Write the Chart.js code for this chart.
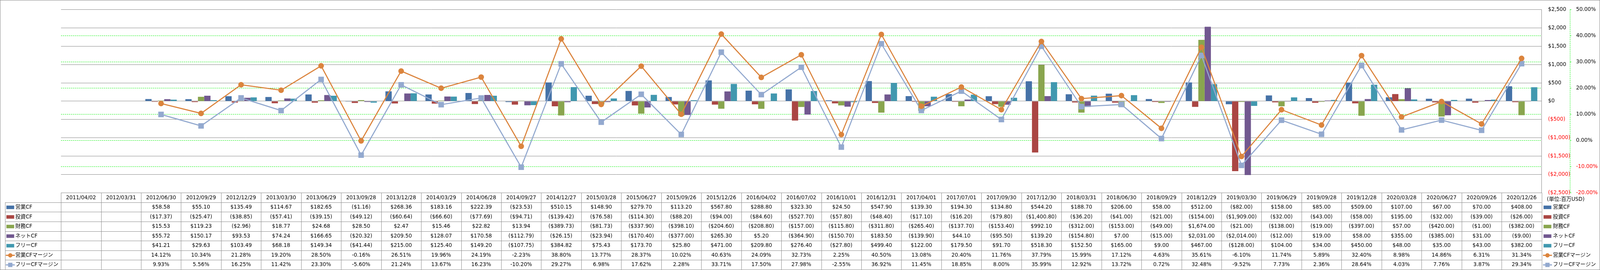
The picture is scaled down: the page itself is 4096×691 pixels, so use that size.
<!DOCTYPE html>
<html>
<head>
<meta charset="utf-8">
<script src="https://cdn.jsdelivr.net/npm/chart.js@4.4.1/dist/chart.umd.min.js"></script>
<style>
html,body{margin:0;padding:0;background:#fff;}
canvas{display:block;}
</style>
</head>
<body>
<canvas id="cf" width="4096" height="691"></canvas>
<script>
// Data (単位: 百万USD)
const categories = ['2011/04/02','2012/03/31','2012/06/30','2012/09/29','2012/12/29','2013/03/30','2013/06/29','2013/09/28','2013/12/28',
  '2014/03/29','2014/06/28','2014/09/27','2014/12/27','2015/03/28','2015/06/27','2015/09/26','2015/12/26',
  '2016/04/02','2016/07/02','2016/10/01','2016/12/31','2017/04/01','2017/07/01','2017/09/30','2017/12/30',
  '2018/03/31','2018/06/30','2018/09/29','2018/12/29','2019/03/30','2019/06/29','2019/09/28','2019/12/28',
  '2020/03/28','2020/06/27','2020/09/26','2020/12/26'];
const opCF = [null,null,58.58,55.10,135.49,114.67,182.65,-1.16,268.36,183.16,222.39,-23.53,510.15,148.90,279.70,113.20,567.80,
  288.80,323.30,24.50,547.90,139.30,194.30,134.80,544.20,188.70,206.00,58.00,512.00,-82.00,158.00,85.00,509.00,107.00,67.00,70.00,408.00];
const invCF = [null,null,-17.37,-25.47,-38.85,-57.41,-39.15,-49.12,-60.64,-66.60,-77.69,-94.71,-139.42,-76.58,-114.30,-88.20,-94.00,
  -84.60,-527.70,-57.80,-48.40,-17.10,-16.20,-79.80,-1400.80,-36.20,-41.00,-21.00,-154.00,-1909.00,-32.00,-43.00,-58.00,195.00,-32.00,-39.00,-26.00];
const finCF = [null,null,15.53,119.23,-2.96,18.77,24.68,28.50,2.47,15.46,22.82,13.94,-389.73,-81.73,-337.90,-398.10,-204.60,
  -208.80,-157.00,-115.80,-311.80,-265.40,-137.70,-153.40,992.10,-312.00,-153.00,-49.00,1674.00,-21.00,-138.00,-19.00,-397.00,57.00,-420.00,-1.00,-382.00];
const netCF = [null,null,55.72,150.17,93.53,74.24,166.65,-20.32,209.50,128.07,170.58,-112.79,-26.15,-23.94,-170.40,-377.00,265.30,
  5.20,-364.90,-150.70,183.50,-139.90,44.10,-95.50,139.20,-154.80,7.00,-15.00,2031.00,-2014.00,-12.00,19.00,58.00,355.00,-385.00,31.00,-9.00];
const freeCF = [null,null,41.21,29.63,103.49,68.18,149.34,-41.44,215.00,125.40,149.20,-107.75,384.82,75.43,173.70,25.80,471.00,
  209.80,276.40,-27.80,499.40,122.00,179.50,91.70,518.30,152.50,165.00,9.00,467.00,-128.00,104.00,34.00,450.00,48.00,35.00,43.00,382.00];
const opMargin = [null,null,14.12,10.34,21.28,19.20,28.50,-0.16,26.51,19.96,24.19,-2.23,38.80,13.77,28.37,10.02,40.63,
  24.09,32.73,2.25,40.50,13.08,20.40,11.76,37.79,15.99,17.12,4.63,35.61,-6.10,11.74,5.89,32.40,8.98,14.86,6.31,31.34];
const freeMargin = [null,null,9.93,5.56,16.25,11.42,23.30,-5.60,21.24,13.67,16.23,-10.20,29.27,6.98,17.62,2.28,33.71,
  17.50,27.98,-2.55,36.92,11.45,18.85,8.00,35.99,12.92,13.72,0.72,32.48,-9.52,7.73,2.36,28.64,4.03,7.76,3.87,29.34];
const unitLabel = '(単位:百万USD)';

// Layout (reference px * 0.805)
const S = 0.805;
const FONT = "'DejaVu Sans', 'Noto Sans CJK JP', sans-serif";
const FONT_SIZE = 13.3;
const GRAY = '#868686';
const GREEN = '#00f000';
const PLOT_TOP = 13.3*S, PLOT_BOTTOM = 613*S, PLOT_LEFT = 194*S, PLOT_RIGHT = 4902.5*S;
const HEAD_BOTTOM = 643.3*S, ROW_H = 30.5*S, LABEL_LEFT = 16*S;
const AXIS2_X = 4993*S;

const rows = [
  {name:'営業CF', data:opCF, color:'#4572a7', kind:'bar'},
  {name:'投資CF', data:invCF, color:'#aa4643', kind:'bar'},
  {name:'財務CF', data:finCF, color:'#89a54e', kind:'bar'},
  {name:'ネットCF', data:netCF, color:'#71588f', kind:'bar'},
  {name:'フリーCF', data:freeCF, color:'#4198af', kind:'bar'},
  {name:'営業CFマージン', data:opMargin, color:'#db843d', kind:'line', point:'circle'},
  {name:'フリーCFマージン', data:freeMargin, color:'#93a9cf', kind:'line', point:'rect'}
];

function money(v){
  const s = Math.abs(v).toLocaleString('en-US',{minimumFractionDigits:2, maximumFractionDigits:2});
  return v < 0 ? '($'+s+')' : '$'+s;
}
function pct(v){ return v.toFixed(2)+'%'; }
function crisp(v){ return Math.round(v)+0.5; }

function drawMarker(ctx, r, x0, x1, cy){
  ctx.fillStyle = r.color;
  ctx.strokeStyle = r.color;
  if(r.kind=='bar'){
    ctx.fillRect(x0+1.5, cy-4.5, x1-x0-3, 9);
    return;
  }
  ctx.lineWidth = 3;
  ctx.beginPath(); ctx.moveTo(x0, cy); ctx.lineTo(x1, cy); ctx.stroke();
  const mx = (x0+x1)/2;
  if(r.point=='circle'){
    ctx.beginPath(); ctx.arc(mx, cy, 5.5, 0, Math.PI*2); ctx.fill();
  } else {
    ctx.fillRect(mx-5.5, cy-5.5, 11, 11);
  }
}

// Data table + legend + secondary axis line
const tablePlugin = {
  id:'cfTable',
  afterDraw(chart){
    const ctx = chart.ctx;
    const area = chart.chartArea;
    const xs = chart.scales.x;
    const colW = (area.right-area.left)/categories.length;
    const bottom = HEAD_BOTTOM + ROW_H*rows.length;
    ctx.save();

    // secondary axis line (dotted green)
    ctx.strokeStyle = GREEN; ctx.lineWidth = 1; ctx.setLineDash([3,2]);
    ctx.beginPath(); ctx.moveTo(crisp(AXIS2_X), area.top); ctx.lineTo(crisp(AXIS2_X), area.bottom); ctx.stroke();
    ctx.setLineDash([]);

    // grid of the table
    ctx.strokeStyle = '#8a8a8a'; ctx.lineWidth = 1;
    ctx.beginPath();
    ctx.moveTo(area.left, crisp(area.bottom)); ctx.lineTo(area.right, crisp(area.bottom));
    for(let k=0;k<=rows.length;k++){
      const y = crisp(HEAD_BOTTOM + k*ROW_H);
      ctx.moveTo(crisp(LABEL_LEFT), y); ctx.lineTo(area.right, y);
    }
    for(let i=0;i<=categories.length;i++){
      const x = crisp(area.left + i*colW);
      ctx.moveTo(x, area.bottom); ctx.lineTo(x, bottom);
    }
    ctx.moveTo(crisp(LABEL_LEFT), HEAD_BOTTOM); ctx.lineTo(crisp(LABEL_LEFT), bottom);
    ctx.stroke();

    // header + values
    ctx.font = FONT_SIZE+'px '+FONT;
    ctx.textBaseline = 'middle';
    ctx.textAlign = 'center';
    ctx.fillStyle = '#000';
    categories.forEach((c,i)=>{
      const cx = xs.getPixelForValue(i);
      ctx.fillText(c, cx, (area.bottom+HEAD_BOTTOM)/2+0.5);
      rows.forEach((r,k)=>{
        const v = r.data[i];
        if(v==null) return;
        const cy = HEAD_BOTTOM + (k+0.5)*ROW_H + 0.5;
        ctx.fillText(r.kind=='bar' ? money(v) : pct(v), cx, cy);
      });
    });

    // row labels (left) and legend (right)
    ctx.textAlign = 'left';
    rows.forEach((r,k)=>{
      const cy = HEAD_BOTTOM + (k+0.5)*ROW_H + 0.5;
      drawMarker(ctx, r, 14.8, 37.8, cy);
      drawMarker(ctx, r, 3950, 3973, cy);
      ctx.fillStyle = '#000';
      ctx.fillText(r.name, 39.2, cy);
      ctx.fillText(r.name, 3975.5, cy);
    });
    ctx.fillText(unitLabel, 3960, 511);

    // chart border
    ctx.strokeStyle = GRAY; ctx.lineWidth = 1;
    ctx.strokeRect(0.5, 0.5, chart.width-1, chart.height-1);
    ctx.restore();
  }
};

// Datasets
const datasets = rows.map(r=> r.kind=='bar' ? {
  type:'bar', label:r.name, data:r.data, backgroundColor:r.color, borderWidth:0,
  yAxisID:'y', order:1, barPercentage:1, categoryPercentage:0.786
} : {
  type:'line', label:r.name, data:r.data, borderColor:r.color, backgroundColor:r.color,
  borderWidth:2.8, tension:0, yAxisID:'y1', order:0,
  pointStyle:r.point, pointRadius: r.point=='circle' ? 7.2 : 10, pointBorderWidth:0,
  pointBackgroundColor:r.color
});

const chart = new Chart(document.getElementById('cf').getContext('2d'), {
  type:'bar',
  data:{labels:categories, datasets:datasets},
  options:{
    responsive:false, animation:false, devicePixelRatio:1,
    layout:{padding:{left:PLOT_LEFT, top:PLOT_TOP, right:0, bottom:691-PLOT_BOTTOM}},
    plugins:{legend:{display:false}, tooltip:{enabled:false}},
    scales:{
      x:{display:false, offset:true},
      y:{
        position:'right', min:-2500, max:2500,
        afterFit:s=>{ s.width = AXIS2_X - PLOT_RIGHT; },
        grid:{color:GRAY, lineWidth:1, drawTicks:false},
        border:{display:true, color:GRAY, width:1},
        ticks:{
          stepSize:500, padding:16.5, font:{family:FONT, size:FONT_SIZE},
          color:c=> c.tick && c.tick.value<0 ? '#ff0000' : '#000000',
          callback:v=> v<0 ? '($'+Math.abs(v).toLocaleString('en-US')+')' : '$'+v.toLocaleString('en-US')
        }
      },
      y1:{
        position:'right', min:-20, max:50,
        afterFit:s=>{ s.width = 4096 - AXIS2_X; },
        grid:{
          drawOnChartArea:true, lineWidth:1, tickLength:3.2, tickColor:GREEN, tickBorderDash:[],
          color:c=> (c.tick && (c.tick.value==50 || c.tick.value==-20)) ? 'rgba(0,0,0,0)' : GREEN
        },
        border:{display:false, dash:[3,2]},
        ticks:{
          stepSize:10, padding:12.1, font:{family:FONT, size:FONT_SIZE},
          color:c=> c.tick && c.tick.value<0 ? '#ff0000' : '#000000',
          callback:v=> v.toFixed(2)+'%'
        }
      }
    }
  },
  plugins:[tablePlugin]
});
</script>
</body>
</html>
